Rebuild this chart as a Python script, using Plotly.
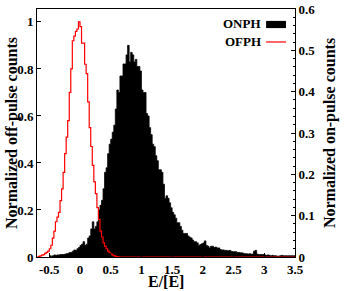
import plotly.graph_objects as go

# ---------------- data ----------------
BIN_W = 0.025

# Off-pulse histogram (left axis), bins start at -0.7
ofph_start = -0.7
ofph = [0, 0.003, 0.005, 0.008, 0.01, 0.015, 0.02, 0.025, 0.035, 0.05,
        0.08, 0.11, 0.15, 0.17, 0.19, 0.24, 0.29, 0.36, 0.44, 0.51,
        0.58, 0.70, 0.80, 0.92, 0.94, 0.96, 0.97, 1.0, 0.98, 0.91,
        0.91, 0.82, 0.78, 0.66, 0.55, 0.47, 0.39, 0.32, 0.27, 0.21,
        0.16, 0.11, 0.085, 0.06, 0.045, 0.035, 0.025, 0.018, 0.012, 0.008,
        0.005, 0.003, 0.002, 0.001, 0]

# On-pulse histogram (right axis), bins start at -0.5
onph_start = -0.5
onph = [0.003, 0.002, 0.003, 0.005, 0.004, 0.005, 0.005, 0.006, 0.006, 0.006,
        0.007, 0.008, 0.009, 0.011, 0.011, 0.014, 0.017, 0.016, 0.020, 0.023,
        0.028, 0.031, 0.037, 0.028, 0.031, 0.046, 0.051, 0.068, 0.085, 0.068,
        0.074, 0.085, 0.114, 0.125, 0.137, 0.165, 0.205, 0.216, 0.250, 0.273,
        0.285, 0.302, 0.319, 0.358, 0.404, 0.398, 0.438, 0.438, 0.467, 0.467,
        0.489, 0.512, 0.472, 0.495, 0.489, 0.472, 0.478, 0.461, 0.461, 0.450,
        0.404, 0.398, 0.398, 0.347, 0.341, 0.313, 0.296, 0.273, 0.267, 0.245,
        0.233, 0.211, 0.211, 0.205, 0.176, 0.142, 0.148, 0.142, 0.131, 0.119,
        0.108, 0.102, 0.094, 0.083, 0.083, 0.074, 0.065, 0.057, 0.057,
        0.057, 0.051, 0.048, 0.046, 0.041, 0.037, 0.037, 0.034, 0.028, 0.030,
        0.032, 0.034, 0.039, 0.028, 0.026, 0.022, 0.026, 0.026, 0.023, 0.024,
        0.022, 0.022, 0.018, 0.017, 0.017, 0.016, 0.016, 0.015, 0.016, 0.014,
        0.013, 0.013, 0.013, 0.011, 0.011, 0.010, 0.010, 0.009, 0.008, 0.008,
        0.007, 0.008, 0.007, 0.007, 0.014, 0.016, 0.007, 0.006, 0.006, 0.006,
        0.006, 0.005, 0.004, 0.005, 0.004, 0.003, 0.004, 0.003, 0.003, 0.002,
        0.002, 0.003, 0.004, 0.003, 0.003, 0.003, 0.003, 0.003, 0.003, 0.003,
        0.003]

x_ticks = [-0.5, 0, 0.5, 1, 1.5, 2, 2.5, 3, 3.5]
x_ticktext = ["-0.5", "0", "0.5", "1", "1.5", "2", "2.5", "3", "3.5"]
left_ticks = [0, 0.2, 0.4, 0.6, 0.8, 1]
left_ticktext = ["0", "0.2", "0.4", "0.6", "0.8", "1"]
right_ticks = [0, 0.1, 0.2, 0.3, 0.4, 0.5, 0.6]
right_ticktext = ["0", "0.1", "0.2", "0.3", "0.4", "0.5", "0.6"]
X_END = 3.5

# ---------------- build step coordinates ----------------
on_x = [onph_start + i * BIN_W for i in range(len(onph) + 1)]
on_y = onph + [onph[-1]]
off_x = [ofph_start + i * BIN_W for i in range(len(ofph) + 1)] + [X_END]
off_y = ofph + [0, 0]

FONT = "Liberation Serif, Times New Roman, serif"

fig = go.Figure()
fig.add_trace(go.Scatter(x=on_x, y=on_y, mode="lines", line_shape="hv",
                         line=dict(color="black", width=0.8),
                         fill="tozeroy", fillcolor="black",
                         yaxis="y", name="ONPH", showlegend=False))
fig.add_trace(go.Scatter(x=off_x, y=off_y, mode="lines", line_shape="hv",
                         line=dict(color="#ff0000", width=1.2),
                         yaxis="y2", name="OFPH", showlegend=False))

tickfont = dict(family=FONT, size=13, color="black", weight="bold")
titlefont = dict(family=FONT, size=16, color="black", weight="bold")

fig.update_layout(
    width=346, height=291,
    margin=dict(l=37, r=51, t=9, b=34, autoexpand=False),
    paper_bgcolor="white", plot_bgcolor="white",
    xaxis=dict(range=[-0.7, X_END], tickvals=x_ticks, ticktext=x_ticktext,
               ticks="inside", ticklen=4, tickcolor="black",
               showline=True, linecolor="black", linewidth=1, mirror=True,
               showgrid=False, zeroline=False, tickfont=tickfont,
               automargin=False),
    yaxis=dict(range=[0, 0.6], side="right", tickvals=right_ticks,
               ticktext=right_ticktext, ticks="inside", ticklen=4,
               tickcolor="black", showline=True, linecolor="black",
               linewidth=1, showgrid=False, zeroline=False,
               tickfont=tickfont, automargin=False,
               minor=dict(dtick=0.02, ticks="inside", ticklen=2,
                          tickcolor="black")),
    yaxis2=dict(range=[0, 1.055], side="left", overlaying="y",
                tickvals=left_ticks, ticktext=left_ticktext,
                ticks="inside", ticklen=4, tickcolor="black",
                showline=True, linecolor="black", linewidth=1,
                showgrid=False, zeroline=False, tickfont=tickfont,
                automargin=False),
    showlegend=False,
)

# axis titles
fig.add_annotation(text="Normalized off-pulse counts", xref="paper", yref="paper",
                   x=-0.097, y=0.5, textangle=-90, showarrow=False,
                   xanchor="center", yanchor="middle", font=titlefont)
fig.add_annotation(text="Normalized on-pulse counts", xref="paper", yref="paper",
                   x=1.136, y=0.5, textangle=-90, showarrow=False,
                   xanchor="center", yanchor="middle", font=titlefont)
fig.add_annotation(text="E/[E]", xref="paper", yref="paper",
                   x=0.5, y=-0.1, showarrow=False,
                   xanchor="center", yanchor="middle", font=titlefont)

# legend drawn gnuplot-style (text left, sample right)
legfont = dict(family=FONT, size=13, color="black", weight="bold")
fig.add_annotation(text="ONPH", xref="paper", yref="paper", x=0.876, y=0.94,
                   xanchor="right", yanchor="middle", showarrow=False,
                   font=legfont)
fig.add_annotation(text="OFPH", xref="paper", yref="paper", x=0.876, y=0.867,
                   xanchor="right", yanchor="middle", showarrow=False,
                   font=legfont)
fig.add_shape(type="rect", xref="paper", yref="paper", x0=0.888, x1=0.965,
              y0=0.923, y1=0.952, fillcolor="black", line=dict(width=0))
fig.add_shape(type="line", xref="paper", yref="paper", x0=0.888, x1=0.965,
              y0=0.867, y1=0.867, line=dict(color="#ff0000", width=1.2))

fig.write_html("out.html", config={"displayModeBar": False},
               post_script="document.body.style.margin='0';"
                           "document.body.style.padding='0';")
